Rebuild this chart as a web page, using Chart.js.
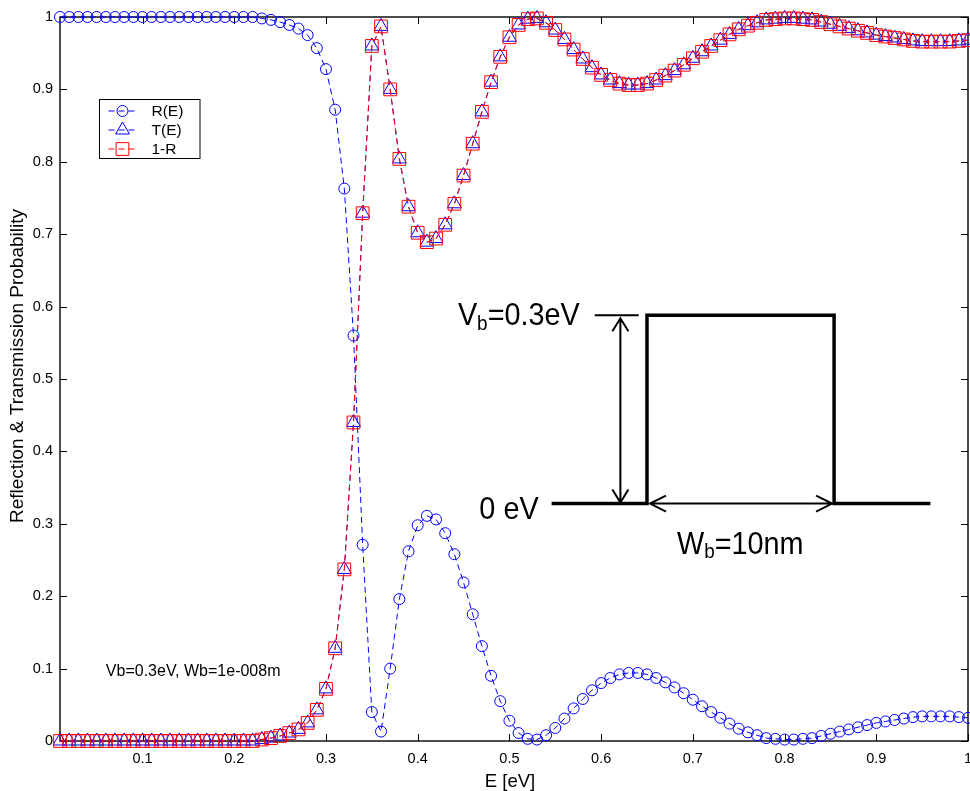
<!DOCTYPE html>
<html>
<head>
<meta charset="utf-8">
<script src="https://cdn.jsdelivr.net/npm/chart.js@4.4.1/dist/chart.umd.min.js"></script>
<style>
  html, body { margin: 0; padding: 0; background: #fff; overflow: hidden; }
  #wrap { width: 970px; height: 791px; }
  canvas { display: block; }
</style>
</head>
<body>
<div id="wrap"><canvas id="rtChart" width="970" height="791"></canvas></div>
<script>
// energy grid [eV]
const energies = [
  0.01, 0.02, 0.03, 0.04, 0.05, 0.06, 0.07, 0.08, 0.09, 0.10,
  0.11, 0.12, 0.13, 0.14, 0.15, 0.16, 0.17, 0.18, 0.19, 0.20,
  0.21, 0.22, 0.23, 0.24, 0.25, 0.26, 0.27, 0.28, 0.29, 0.30,
  0.31, 0.32, 0.33, 0.34, 0.35, 0.36, 0.37, 0.38, 0.39, 0.40,
  0.41, 0.42, 0.43, 0.44, 0.45, 0.46, 0.47, 0.48, 0.49, 0.50,
  0.51, 0.52, 0.53, 0.54, 0.55, 0.56, 0.57, 0.58, 0.59, 0.60,
  0.61, 0.62, 0.63, 0.64, 0.65, 0.66, 0.67, 0.68, 0.69, 0.70,
  0.71, 0.72, 0.73, 0.74, 0.75, 0.76, 0.77, 0.78, 0.79, 0.80,
  0.81, 0.82, 0.83, 0.84, 0.85, 0.86, 0.87, 0.88, 0.89, 0.90,
  0.91, 0.92, 0.93, 0.94, 0.95, 0.96, 0.97, 0.98, 0.99, 1.00
];

const reflection = [
  1.000, 1.000, 1.000, 1.000, 1.000, 1.000, 1.000, 1.000, 1.000, 1.000,
  1.000, 1.000, 1.000, 1.000, 1.000, 1.000, 1.000, 1.000, 1.000, 1.000,
  1.000, 1.000, 0.998, 0.996, 0.993, 0.989, 0.984, 0.975, 0.957, 0.928,
  0.872, 0.763, 0.560, 0.271, 0.040, 0.013, 0.100, 0.196, 0.262, 0.298,
  0.311, 0.306, 0.287, 0.258, 0.219, 0.175, 0.131, 0.090, 0.055, 0.028,
  0.011, 0.003, 0.002, 0.008, 0.018, 0.031, 0.045, 0.058, 0.070, 0.080,
  0.087, 0.092, 0.094, 0.094, 0.092, 0.087, 0.081, 0.074, 0.066, 0.057,
  0.048, 0.040, 0.032, 0.024, 0.017, 0.012, 0.008, 0.004, 0.003, 0.002,
  0.002, 0.003, 0.004, 0.007, 0.010, 0.013, 0.016, 0.019, 0.022, 0.025,
  0.027, 0.029, 0.031, 0.033, 0.034, 0.034, 0.034, 0.034, 0.033, 0.032
];

const transmission = [
  0.000, 0.000, 0.000, 0.000, 0.000, 0.000, 0.000, 0.000, 0.000, 0.000,
  0.000, 0.000, 0.000, 0.000, 0.000, 0.000, 0.000, 0.000, 0.000, 0.000,
  0.000, 0.000, 0.002, 0.004, 0.007, 0.011, 0.016, 0.025, 0.043, 0.072,
  0.128, 0.237, 0.440, 0.729, 0.960, 0.987, 0.900, 0.804, 0.738, 0.702,
  0.689, 0.694, 0.713, 0.742, 0.781, 0.825, 0.869, 0.910, 0.945, 0.972,
  0.989, 0.997, 0.998, 0.992, 0.982, 0.969, 0.955, 0.942, 0.930, 0.920,
  0.913, 0.908, 0.906, 0.906, 0.908, 0.913, 0.919, 0.926, 0.934, 0.943,
  0.952, 0.960, 0.968, 0.976, 0.983, 0.988, 0.992, 0.996, 0.997, 0.998,
  0.998, 0.997, 0.996, 0.993, 0.990, 0.987, 0.984, 0.981, 0.978, 0.975,
  0.973, 0.971, 0.969, 0.967, 0.966, 0.966, 0.966, 0.966, 0.967, 0.968
];

const oneMinusR = [
  0.000, 0.000, 0.000, 0.000, 0.000, 0.000, 0.000, 0.000, 0.000, 0.000,
  0.000, 0.000, 0.000, 0.000, 0.000, 0.000, 0.000, 0.000, 0.000, 0.000,
  0.000, 0.000, 0.002, 0.004, 0.007, 0.011, 0.016, 0.025, 0.043, 0.072,
  0.128, 0.237, 0.440, 0.729, 0.960, 0.987, 0.900, 0.804, 0.738, 0.702,
  0.689, 0.694, 0.713, 0.742, 0.781, 0.825, 0.869, 0.910, 0.945, 0.972,
  0.989, 0.997, 0.998, 0.992, 0.982, 0.969, 0.955, 0.942, 0.930, 0.920,
  0.913, 0.908, 0.906, 0.906, 0.908, 0.913, 0.919, 0.926, 0.934, 0.943,
  0.952, 0.960, 0.968, 0.976, 0.983, 0.988, 0.992, 0.996, 0.997, 0.998,
  0.998, 0.997, 0.996, 0.993, 0.990, 0.987, 0.984, 0.981, 0.978, 0.975,
  0.973, 0.971, 0.969, 0.967, 0.966, 0.966, 0.966, 0.966, 0.967, 0.968
];

const xTickValues = [0.1, 0.2, 0.3, 0.4, 0.5, 0.6, 0.7, 0.8, 0.9, 1];
const yTickValues = [0, 0.1, 0.2, 0.3, 0.4, 0.5, 0.6, 0.7, 0.8, 0.9, 1];
const seriesLabels = ['R(E)', 'T(E)', '1-R'];
const xTitle = 'E [eV]';
const yTitle = 'Reflection & Transmission Probability';
const noteText = 'Vb=0.3eV, Wb=1e-008m';

const FONT = '"Liberation Sans", Arial, sans-serif';
const BLUE = '#0000ff';
const RED = '#ff0000';

const toPoints = vals => energies.map((e, i) => ({ x: e, y: vals[i] }));

function drawMarker(ctx, style, r, cx, cy) {
  ctx.beginPath();
  if (style === 'circle') {
    ctx.arc(cx, cy, r, 0, Math.PI * 2);
  } else if (style === 'triangle') {
    for (let k = 0; k < 3; k++) {
      const a = -Math.PI / 2 + k * 2 * Math.PI / 3;
      const px = cx + Math.cos(a) * r, py = cy + Math.sin(a) * r;
      if (k === 0) ctx.moveTo(px, py); else ctx.lineTo(px, py);
    }
    ctx.closePath();
  } else {
    const s = r * Math.SQRT1_2;
    ctx.rect(cx - s, cy - s, 2 * s, 2 * s);
  }
  ctx.stroke();
}

// text squeezed horizontally, parts = [text, size, dy]
function squashText(ctx, parts, x, y, align, sx) {
  let w = 0;
  parts.forEach(p => { ctx.font = p[1] + 'px ' + FONT; w += ctx.measureText(p[0]).width * sx; });
  let cx = align === 'right' ? x - w : x;
  ctx.textAlign = 'left';
  ctx.textBaseline = 'alphabetic';
  parts.forEach(p => {
    ctx.font = p[1] + 'px ' + FONT;
    const pw = ctx.measureText(p[0]).width * sx;
    ctx.save();
    ctx.translate(cx, y + p[2]);
    ctx.scale(sx, 1);
    ctx.fillText(p[0], 0, 0);
    ctx.restore();
    cx += pw;
  });
}

function arrowHead(ctx, tx, ty, dx, dy, len, half) {
  const bx = tx - dx * len, by = ty - dy * len;
  ctx.moveTo(bx - dy * half, by + dx * half);
  ctx.lineTo(tx, ty);
  ctx.lineTo(bx + dy * half, by - dx * half);
}

const framePlugin = {
  id: 'frame',
  beforeDatasetsDraw(chart) {
    const { ctx, chartArea: a, scales: { x, y } } = chart;
    ctx.save();
    ctx.strokeStyle = '#000';
    ctx.lineWidth = 1;
    ctx.beginPath();
    xTickValues.forEach(v => {
      const px = Math.round(x.getPixelForValue(v)) + 0.5;
      ctx.moveTo(px, a.bottom); ctx.lineTo(px, a.bottom - 7);
      ctx.moveTo(px, a.top); ctx.lineTo(px, a.top + 7);
    });
    yTickValues.forEach(v => {
      const py = Math.round(y.getPixelForValue(v)) + 0.5;
      ctx.moveTo(a.left, py); ctx.lineTo(a.left + 7, py);
      ctx.moveTo(a.right, py); ctx.lineTo(a.right - 7, py);
    });
    ctx.stroke();
    ctx.lineWidth = 1.4;
    ctx.strokeRect(a.left, a.top, a.right - a.left, a.bottom - a.top);
    ctx.restore();
  }
};

const extrasPlugin = {
  id: 'extras',
  afterDraw(chart) {
    const { ctx, chartArea: a, scales: { x, y } } = chart;
    ctx.save();
    ctx.fillStyle = '#000';

    // axis titles
    ctx.font = '18.5px ' + FONT;
    ctx.textAlign = 'center';
    ctx.textBaseline = 'alphabetic';
    ctx.fillText(xTitle, (a.left + a.right) / 2 - 4, 787);
    ctx.save();
    ctx.translate(23, (a.top + a.bottom) / 2 - 13);
    ctx.rotate(-Math.PI / 2);
    ctx.font = '19px ' + FONT;
    ctx.fillText(yTitle, 0, 0);
    ctx.restore();

    // legend
    const lx = a.left + 39.5, ly = a.top + 82.5;
    ctx.fillStyle = '#fff';
    ctx.fillRect(lx, ly, 100.5, 59);
    ctx.strokeStyle = '#000';
    ctx.lineWidth = 1;
    ctx.strokeRect(lx, ly, 100.5, 59);
    chart.data.datasets.forEach((ds, i) => {
      const cy = ly + 11.5 + i * 19;
      ctx.strokeStyle = ds.borderColor;
      ctx.lineWidth = 1;
      ctx.setLineDash([6, 4]);
      ctx.beginPath();
      ctx.moveTo(lx + 9, cy); ctx.lineTo(lx + 36, cy);
      ctx.stroke();
      ctx.setLineDash([]);
      drawMarker(ctx, ds.pointStyle, ds.pointRadius, lx + 23, cy);
      ctx.fillStyle = '#000';
      ctx.font = '15.5px ' + FONT;
      ctx.textAlign = 'left';
      ctx.textBaseline = 'middle';
      ctx.fillText(ds.label, lx + 52, cy + 1);
    });

    // parameter note
    ctx.font = '16px ' + FONT;
    ctx.textAlign = 'left';
    ctx.textBaseline = 'alphabetic';
    ctx.fillText(noteText, x.getPixelForValue(0.06), y.getPixelForValue(0.09));

    // barrier sketch
    const e0 = x.getPixelForValue(0.546), e1 = x.getPixelForValue(0.650);
    const e2 = x.getPixelForValue(0.854), e3 = x.getPixelForValue(0.959);
    const lo = y.getPixelForValue(0.328), hi = y.getPixelForValue(0.588);
    ctx.strokeStyle = '#000';
    ctx.lineWidth = 3.5;
    ctx.lineJoin = 'miter';
    ctx.beginPath();
    ctx.moveTo(e0, lo); ctx.lineTo(e1, lo); ctx.lineTo(e1, hi);
    ctx.lineTo(e2, hi); ctx.lineTo(e2, lo); ctx.lineTo(e3, lo);
    ctx.stroke();

    const m0 = x.getPixelForValue(0.593), m1 = x.getPixelForValue(0.641);
    const ax = x.getPixelForValue(0.621);
    ctx.lineWidth = 2;
    ctx.beginPath();
    ctx.moveTo(m0, hi); ctx.lineTo(m1, hi);
    ctx.moveTo(ax, hi + 3); ctx.lineTo(ax, lo - 1);
    arrowHead(ctx, ax, hi + 3, 0, -1, 13, 8);
    arrowHead(ctx, ax, lo - 1, 0, 1, 13, 8);
    ctx.moveTo(e1 + 3, lo); ctx.lineTo(e2 - 2, lo);
    arrowHead(ctx, e1 + 3, lo, -1, 0, 16, 8);
    arrowHead(ctx, e2 - 2, lo, 1, 0, 16, 8);
    ctx.stroke();

    ctx.fillStyle = '#000';
    squashText(ctx, [['0 eV', 32, 0]], e0 - 13, lo + 15, 'right', 0.9);
    squashText(ctx, [['V', 32, 0], ['b', 21, 5], ['=0.3eV', 32, 0]], m0 - 15, hi + 10, 'right', 0.9);
    squashText(ctx, [['W', 32, 0], ['b', 21, 4], ['=10nm', 32, 0]], e1 + 30, lo + 50, 'left', 0.9);
    ctx.restore();
  }
};

const lineStyle = color => ({
  borderColor: color,
  borderWidth: 1,
  borderDash: [6, 4],
  pointBorderColor: color,
  pointBackgroundColor: 'rgba(0,0,0,0)',
  pointBorderWidth: 1,
  fill: false,
  tension: 0,
  clip: false
});

new Chart(document.getElementById('rtChart'), {
  type: 'line',
  data: {
    datasets: [
      Object.assign({ label: seriesLabels[0], data: toPoints(reflection), pointStyle: 'circle', pointRadius: 5.5, order: 2 }, lineStyle(BLUE)),
      Object.assign({ label: seriesLabels[1], data: toPoints(transmission), pointStyle: 'triangle', pointRadius: 8, order: 1 }, lineStyle(BLUE)),
      Object.assign({ label: seriesLabels[2], data: toPoints(oneMinusR), pointStyle: 'rect', pointRadius: 9, order: 0 }, lineStyle(RED))
    ]
  },
  options: {
    responsive: false,
    animation: false,
    devicePixelRatio: 1,
    layout: { autoPadding: false, padding: { top: 17, right: 2, left: 0, bottom: 0 } },
    plugins: { legend: { display: false }, tooltip: { enabled: false } },
    scales: {
      x: {
        type: 'linear',
        min: 0.01,
        max: 1,
        grid: { display: false, drawTicks: false },
        border: { display: false },
        afterBuildTicks: s => { s.ticks = xTickValues.map(v => ({ value: v })); },
        afterFit: s => { s.height = 50; s.paddingLeft = 0; s.paddingRight = 0; },
        ticks: {
          padding: 9,
          color: '#000',
          font: { family: FONT, size: 14.5 },
          maxRotation: 0,
          autoSkip: false,
          callback: v => String(+v.toFixed(1))
        }
      },
      y: {
        min: 0,
        max: 1,
        grid: { display: false, drawTicks: false },
        border: { display: false },
        afterBuildTicks: s => { s.ticks = yTickValues.map(v => ({ value: v })); },
        afterFit: s => { s.width = 60; s.paddingTop = 0; s.paddingBottom = 0; },
        ticks: {
          padding: 7,
          color: '#000',
          font: { family: FONT, size: 14.5 },
          autoSkip: false,
          callback: v => String(+v.toFixed(1))
        }
      }
    }
  },
  plugins: [framePlugin, extrasPlugin]
});
</script>
</body>
</html>
